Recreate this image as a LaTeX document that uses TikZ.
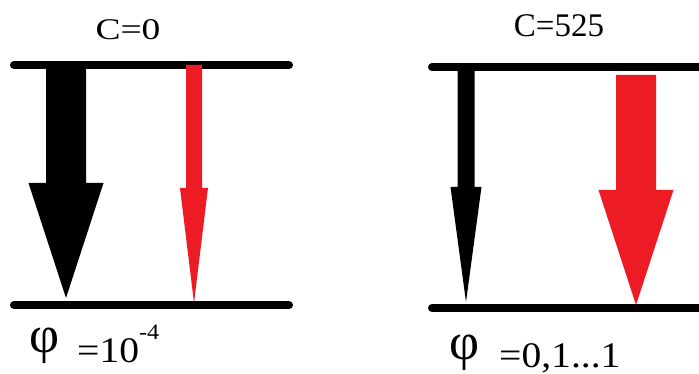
\documentclass[tikz,border=0pt]{standalone}
\usepackage{fontspec}
\setmainfont{Liberation Serif}
\newfontfamily\widefont[FakeStretch=1.25]{Liberation Serif}
\newfontfamily\valfont[FakeStretch=1.1]{Liberation Serif}
\usepackage{xcolor}
\usetikzlibrary{calc}

\definecolor{beamred}{RGB}{237,28,36}

% block arrow: [colour]{start}{tip}{shaft width}{head width}
\newcommand{\blockarrow}[5][black]{%
  \fill[#1] ($(#2)+(-#4/2,0)$) -- ($(#2)+(#4/2,0)$) -- ($(#3)+(#4/2,-115)$)
    -- ($(#3)+(#5/2,-115)$) -- (#3) -- ($(#3)+(-#5/2,-115)$)
    -- ($(#3)+(-#4/2,-115)$) -- cycle;}
\newcommand{\expo}[1]{\raisebox{0.62em}{\fontsize{22}{24}\selectfont #1}}

\begin{document}
\begin{tikzpicture}[x=1pt, y=-1pt,
    level/.style={line width=8pt, line cap=round},
    title/.style={font=\fontsize{33}{36}\selectfont, inner sep=0pt},
    value/.style={font=\valfont\fontsize{36}{40}\selectfont, inner sep=0pt, anchor=base west},
    phi/.style={font=\fontsize{52}{56}\selectfont, inner sep=0pt},
]
\useasboundingbox (0,0) rectangle (699,374);

% Levels
\coordinate (topLa) at (14,65);   \coordinate (topLb) at (289,65);
\coordinate (botLa) at (14,305);  \coordinate (botLb) at (289,305);
\coordinate (topRa) at (432,67);  \coordinate (topRb) at (710,67);
\coordinate (botRa) at (432,308); \coordinate (botRb) at (710,308);
\draw[level] (topLa) -- (topLb);
\draw[level] (botLa) -- (botLb);
\draw[level] (topRa) -- (topRb);
\draw[level] (botRa) -- (botRb);

% Titles
\node[title, font=\widefont\fontsize{30}{36}\selectfont] (cZero) at (128,30) {C=0};
\node[title] (cHigh) at (559,26) {C=525};

% Arrows - left
\coordinate (aLs) at (66,65);   \coordinate (aLt) at (66,298);
\coordinate (bLs) at (194,65);  \coordinate (bLt) at (194,303);
\blockarrow{aLs}{aLt}{40}{75}
\blockarrow[beamred]{bLs}{bLt}{16}{28}

% Arrows - right
\coordinate (aRs) at (466,67);  \coordinate (aRt) at (466,302);
\coordinate (bRs) at (636,75);  \coordinate (bRt) at (636,305);
\blockarrow{aRs}{aRt}{17}{31}
\blockarrow[beamred]{bRs}{bRt}{40}{75}

% Labels
\node[phi] (phiL) at (45,346) {φ};
\node[value] (valL) at (77,362) {=10\expo{-4}};
\node[phi] (phiR) at (465,353) {φ};
\node[value] (valR) at (499,367) {=0,1...1};

\end{tikzpicture}
\end{document}
